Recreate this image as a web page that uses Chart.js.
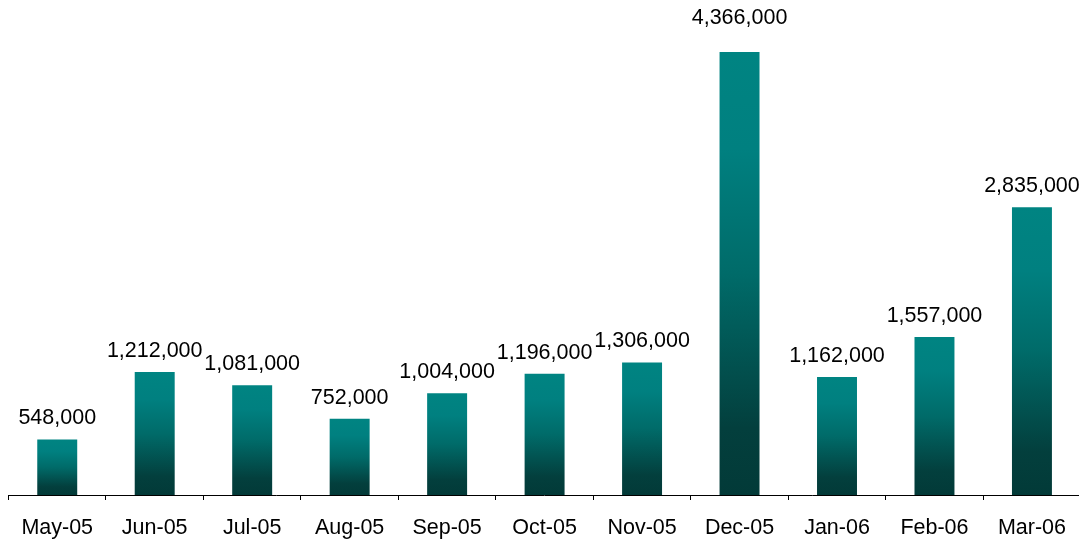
<!DOCTYPE html>
<html>
<head>
<meta charset="utf-8">
<script src="https://cdn.jsdelivr.net/npm/chart.js@4/dist/chart.umd.min.js"></script>
<style>
  html, body { margin: 0; padding: 0; background: #fff; overflow: hidden; }
  #wrap { width: 1081px; height: 541px; }
</style>
</head>
<body>
<div id="wrap"><canvas id="c" width="1081" height="541"></canvas></div>
<script>
const categories = ["May-05","Jun-05","Jul-05","Aug-05","Sep-05","Oct-05","Nov-05","Dec-05","Jan-06","Feb-06","Mar-06"];
const values = [548000,1212000,1081000,752000,1004000,1196000,1306000,4366000,1162000,1557000,2835000];

const FONT = "'Liberation Sans', Arial, sans-serif";

function barGradient(ctx) {
  const chart = ctx.chart;
  if (!chart.chartArea || ctx.type !== 'data') return '#007c7a';
  const y = chart.scales.y;
  const top = y.getPixelForValue(ctx.raw);
  const base = y.getPixelForValue(0);
  const g = chart.ctx.createLinearGradient(0, top, 0, base);
  g.addColorStop(0, '#008482');
  g.addColorStop(0.22, '#008080');
  g.addColorStop(0.5, '#006b69');
  g.addColorStop(0.85, '#033f3d');
  g.addColorStop(1, '#023a38');
  return g;
}

const labelPlugin = {
  id: 'valueLabels',
  afterDatasetsDraw(chart) {
    const c = chart.ctx;
    const meta = chart.getDatasetMeta(0);
    const max = Math.max(...values);
    c.save();
    c.font = "21.5px " + FONT;
    c.fillStyle = '#000';
    c.textAlign = 'center';
    c.textBaseline = 'middle';
    meta.data.forEach((bar, i) => {
      const v = values[i];
      const y = v === max ? 18 : bar.y - 21;
      c.fillText(v.toLocaleString('en-US'), bar.x, y);
    });
    c.restore();
  }
};

new Chart(document.getElementById('c'), {
  type: 'bar',
  data: {
    labels: categories,
    datasets: [{
      data: values,
      backgroundColor: barGradient,
      borderWidth: 0,
      categoryPercentage: 1.0,
      barPercentage: 0.41
    }]
  },
  options: {
    responsive: false,
    animation: false,
    layout: { padding: { left: 8.5, right: 0, top: 8, bottom: 0 } },
    plugins: { legend: { display: false }, tooltip: { enabled: false } },
    scales: {
      x: {
        afterFit(scale) { scale.height = 46; },
        grid: { display: true, drawOnChartArea: false, drawTicks: true, tickLength: 5, color: '#000', offset: true },
        border: { display: true, color: '#000', width: 1 },
        ticks: { color: '#000', font: { family: FONT, size: 21.5 }, padding: 15, maxRotation: 0, autoSkip: false }
      },
      y: {
        display: false,
        min: 0,
        max: 4800000
      }
    }
  },
  plugins: [labelPlugin]
});
</script>
</body>
</html>
